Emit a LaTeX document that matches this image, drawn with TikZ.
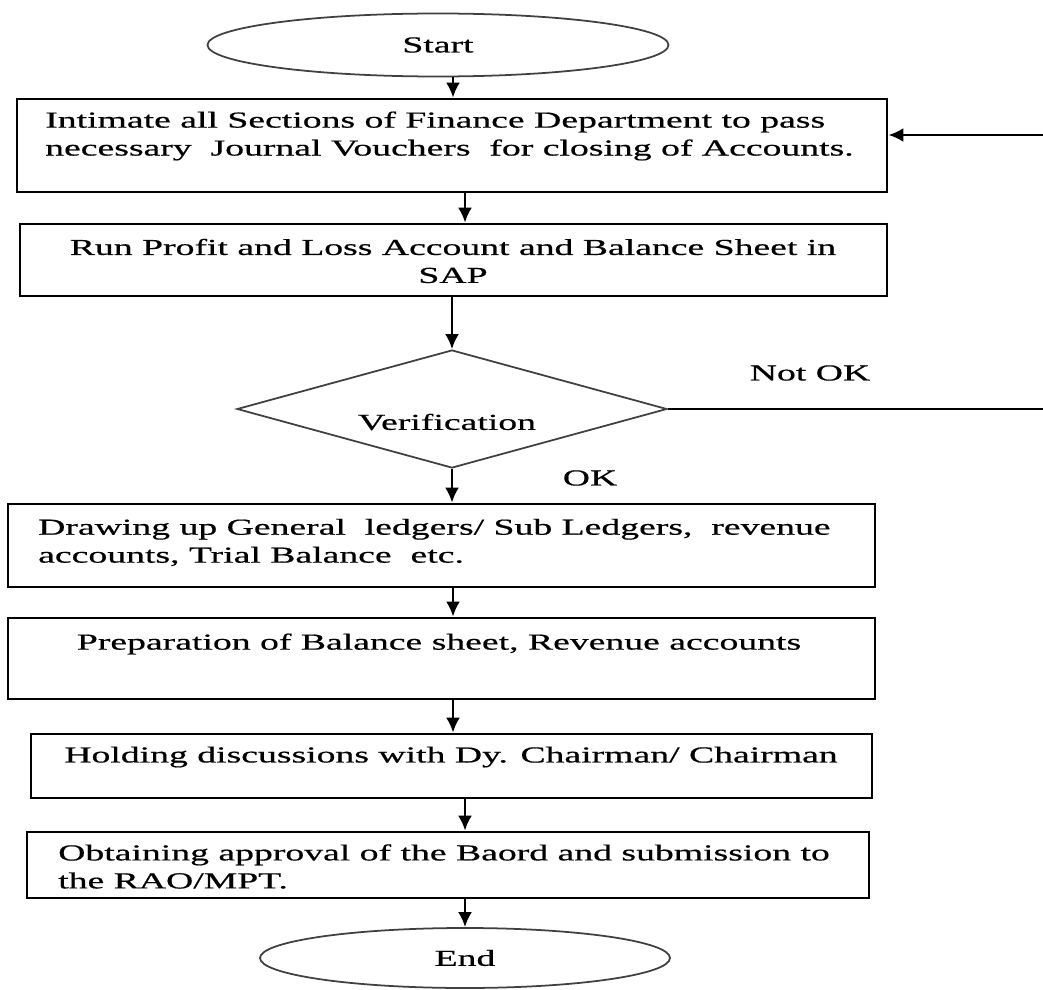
\documentclass[tikz,border=0pt]{standalone}
\usepackage{fontspec}
\setmainfont{Liberation Serif}[FakeStretch=1.65,FakeBold=0.6]
\usetikzlibrary{arrows.meta,shapes.geometric}

\begin{document}
\begin{tikzpicture}[font=\fontsize{13}{15.9}\selectfont,every path/.style={line width=1.4pt},box/.style={draw,line width=1.6pt,rectangle},term/.style={draw=black!75,line width=1pt,ellipse},txt/.style={inner sep=0,align=center},arr/.style={-{Latex[length=3mm,width=2.8mm]}}]
	\useasboundingbox (0,0) rectangle (20.86,-19.8);

	\node at (8.76,-0.90) [term,minimum width=9.22cm,minimum height=1.26cm] (start) {Start};
	\node at (9.04,-2.91) [box,minimum width=17.4cm,minimum height=1.86cm] (intimate) {};
	\node at (9.07,-5.20) [box,minimum width=17.34cm,minimum height=1.44cm] (runpl) {};
	\node at (9.04,-8.18) [diamond,draw=black!75,line width=1pt,minimum width=8.6cm,minimum height=2.36cm,inner sep=0] (verify) {};
	\node at (8.83,-10.91) [box,minimum width=17.34cm,minimum height=1.66cm] (ledgers) {};
	\node at (8.83,-13.17) [box,minimum width=17.34cm,minimum height=1.62cm] (prepare) {};
	\node at (9.03,-15.32) [box,minimum width=16.82cm,minimum height=1.28cm] (discuss) {};
	\node at (8.96,-17.30) [box,minimum width=16.84cm,minimum height=1.32cm] (approve) {};
	\node at (9.30,-19.16) [term,minimum width=8.2cm,minimum height=1.2cm] (stop) {End};

	\node[txt,anchor=west,align=left] at (0.88,-2.72) (intimatetext) {Intimate all Sections of Finance Department to pass\\necessary~ Journal Vouchers~ for closing of Accounts.};
	\node[txt] at (9.06,-5.22) (runpltext) {Run Profit and Loss Account and Balance Sheet in\\SAP};
	\node[txt] at (8.94,-8.44) (verifytext) {Verification};
	\node[txt] at (16.2,-7.46) (notok) {Not OK};
	\node[txt] at (11.8,-9.56) (ok) {OK};
	\node[txt,anchor=west,align=left] at (0.74,-10.85) (ledgerstext) {Drawing up General~ ledgers/ Sub Ledgers,~ revenue\\accounts, Trial Balance~ etc.};
	\node[txt] at (8.78,-12.88) (preparetext) {Preparation of Balance sheet, Revenue accounts};
	\node[txt] at (9.02,-15.14) (discusstext) {Holding discussions with Dy. Chairman/ Chairman};
	\node[txt,anchor=west,align=left] at (1.14,-17.33) (approvetext) {Obtaining approval of the Baord and submission to\\the RAO/MPT.};

	\coordinate (colA) at (9.06,0);
	\coordinate (colB) at (9.30,0);
	\coordinate (back) at (20.96,-2.70);

	\draw[arr] (start.south -| colA) -- (intimate.north -| colA);
	\draw[arr] (intimate.south -| colB) -- (runpl.north -| colB);
	\draw[arr] (runpl.south -| verify.north) -- (verify.north);
	\draw[arr] (verify.south) -- (ledgers.north -| verify.south);
	\draw[arr] (ledgers.south -| colA) -- (prepare.north -| colA);
	\draw[arr] (prepare.south -| colA) -- (discuss.north -| colA);
	\draw[arr] (discuss.south -| colB) -- (approve.north -| colB);
	\draw[arr] (approve.south -| colB) -- (stop.north);
	\draw[arr] (verify.east) -| (back) -- (back -| intimate.east);
\end{tikzpicture}
\end{document}
